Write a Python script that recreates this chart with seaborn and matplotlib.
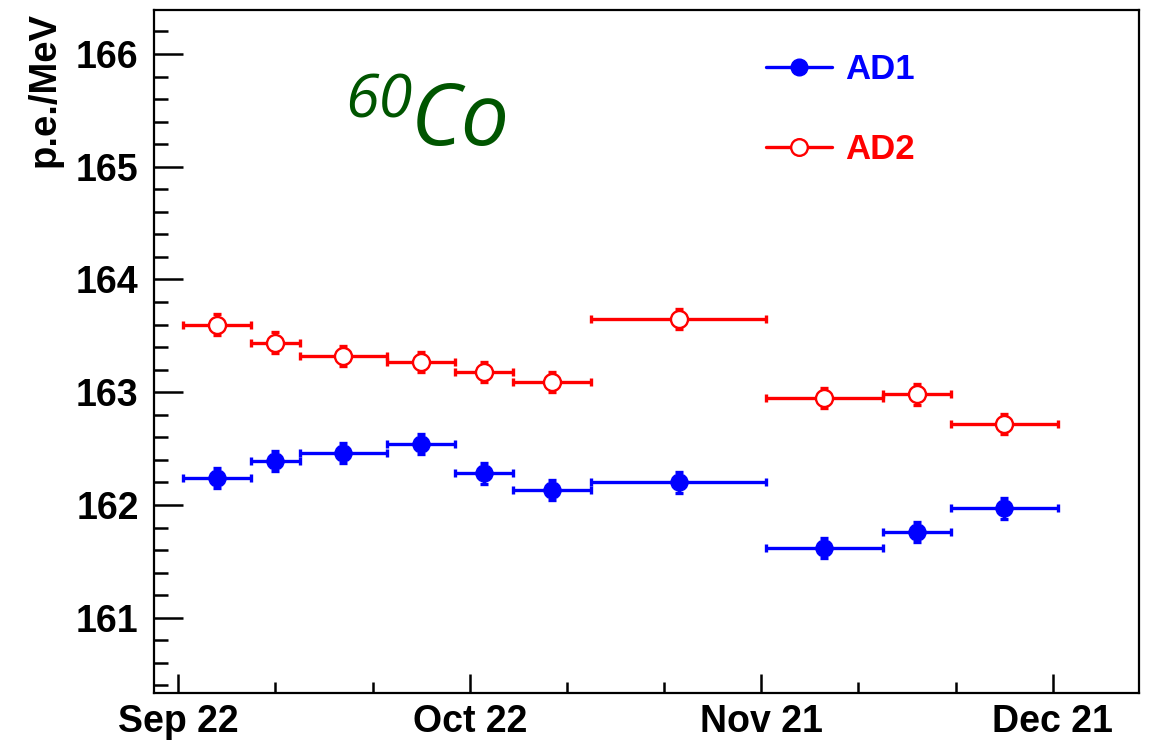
# 60Co energy scale vs time for AD1 / AD2 (ROOT-style errorbar plot)

import numpy as np
import pandas as pd
import matplotlib
matplotlib.use("Agg")
import matplotlib.pyplot as plt
import matplotlib.dates as mdates
from matplotlib.lines import Line2D
from matplotlib.ticker import MultipleLocator, FixedLocator
import seaborn as sns

# Data
bin_edges = ["2011-09-22 12:00", "2011-09-29 12:00", "2011-10-04 12:00", "2011-10-13 12:00",
             "2011-10-20 12:00", "2011-10-26 12:00", "2011-11-03 12:00", "2011-11-21 12:00",
             "2011-12-03 12:00", "2011-12-10 12:00", "2011-12-21 12:00"]
ad1 = [162.24, 162.39, 162.46, 162.54, 162.28, 162.13, 162.20, 161.62, 161.76, 161.97]
ad2 = [163.60, 163.44, 163.32, 163.27, 163.18, 163.09, 163.65, 162.95, 162.98, 162.72]
ad1_err = [0.09, 0.09, 0.09, 0.09, 0.09, 0.09, 0.09, 0.09, 0.09, 0.09]
ad2_err = [0.09, 0.09, 0.09, 0.09, 0.09, 0.09, 0.09, 0.09, 0.09, 0.09]
tick_dates = ["2011-09-22", "2011-10-22", "2011-11-21", "2011-12-21"]
x_range = ["2011-09-19 12:00", "2011-12-29 22:00"]
y_range = [160.33, 166.39]

sns.set_theme(style="ticks")
plt.rcParams["font.family"] = ["Liberation Sans", "DejaVu Sans"]
plt.rcParams["font.weight"] = "bold"

edges = mdates.date2num(pd.to_datetime(bin_edges))
centers = (edges[:-1] + edges[1:]) / 2
half_w = (edges[1:] - edges[:-1]) / 2

fig = plt.figure(figsize=(11.57, 7.45), dpi=100)
ax = fig.add_axes([0.1331, 0.0694, 0.8516, 0.9172])

# error bars
ax.errorbar(centers, ad1, xerr=half_w, yerr=ad1_err, fmt="none", ecolor="#0000ff",
            elinewidth=2.4, capsize=2.6, capthick=2.4, zorder=2)
ax.errorbar(centers, ad2, xerr=half_w, yerr=ad2_err, fmt="none", ecolor="#ff0000",
            elinewidth=2.4, capsize=2.6, capthick=2.4, zorder=2)

# markers
sns.scatterplot(x=centers, y=ad1, ax=ax, color="#0000ff", edgecolor="#0000ff",
                s=150, marker="o", linewidth=1.0, zorder=3, legend=False)
sns.scatterplot(x=centers, y=ad2, ax=ax, color="white", edgecolor="#ff0000",
                s=150, marker="o", linewidth=1.7, zorder=3, legend=False)

ax.set_xlim(mdates.date2num(pd.to_datetime(x_range)))
ax.set_ylim(y_range)

# axes styling
ax.xaxis.set_major_locator(FixedLocator(mdates.date2num(pd.to_datetime(tick_dates))))
ax.xaxis.set_minor_locator(FixedLocator(mdates.date2num(pd.date_range(tick_dates[0], tick_dates[-1], freq="10D"))))
ax.xaxis.set_major_formatter(mdates.DateFormatter("%b %d"))
ax.yaxis.set_major_locator(MultipleLocator(1))
ax.yaxis.set_minor_locator(MultipleLocator(0.2))

ax.tick_params(axis="both", which="both", direction="in", top=False, right=False,
               width=1.8, color="black", labelsize=27, labelcolor="black")
ax.tick_params(axis="y", which="major", length=21, pad=11)
ax.tick_params(axis="y", which="minor", length=10)
ax.tick_params(axis="x", which="major", length=14, pad=8)
ax.tick_params(axis="x", which="minor", length=8)
for lab in ax.get_xticklabels() + ax.get_yticklabels():
    lab.set_fontweight("bold")
for sp in ax.spines.values():
    sp.set_visible(True)
    sp.set_linewidth(1.6)
    sp.set_color("black")

fig.text(44.5 / 1157, 1 - 11.7 / 745, "p.e./MeV", rotation=90, ha="center", va="top",
         fontsize=27.5, fontweight="bold", color="black")

# 60Co annotation
fig.text(345 / 1157, 1 - 117 / 745, "60", fontsize=44, fontstyle="italic", fontweight="normal",
         family=["Open Sans", "DejaVu Sans"], color="#005500", va="baseline", ha="left")
fig.text(411 / 1157, 1 - 145 / 745, "Co", fontsize=62, fontstyle="italic", fontweight="normal",
         family=["Open Sans", "DejaVu Sans"], color="#005500", va="baseline", ha="left")

# legend
handles = [
    Line2D([], [], color="#0000ff", lw=2.4, marker="o", ms=12, mfc="#0000ff", mec="#0000ff"),
    Line2D([], [], color="#ff0000", lw=2.4, marker="o", ms=12, mfc="white", mec="#ff0000", mew=1.7),
]
leg = ax.legend(handles, ["AD1", "AD2"], loc="upper left", bbox_to_anchor=(0.6208, 0.937),
                frameon=False, handlelength=1.9, handletextpad=0.4,
                labelspacing=1.35, borderpad=0, borderaxespad=0, prop={"weight": "bold", "size": 25})
leg.get_texts()[0].set_color("#0000ff")
leg.get_texts()[1].set_color("#ff0000")

fig.savefig("out.png", dpi=100)
